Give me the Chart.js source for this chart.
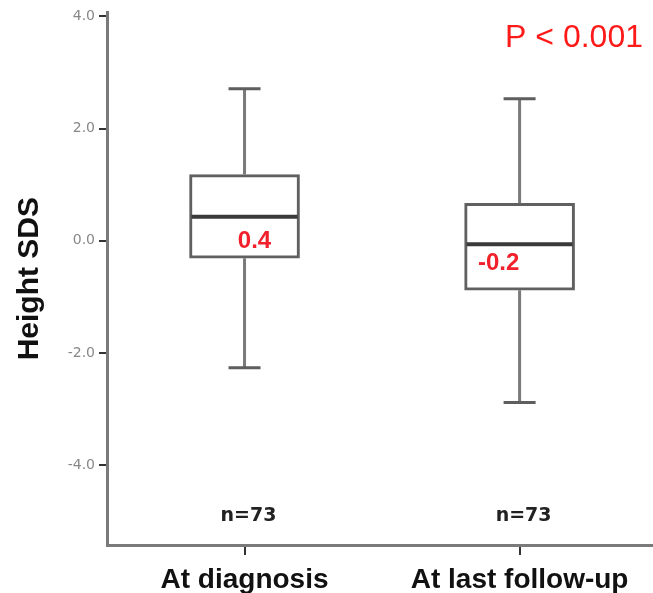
<!DOCTYPE html>
<html>
<head>
<meta charset="utf-8">
<script src="https://cdn.jsdelivr.net/npm/chart.js@4.4.0/dist/chart.umd.min.js"></script>
<style>
    html, body { margin: 0; padding: 0; background: #fff; }
    #wrap { width: 653px; height: 593px; }
</style>
</head>
<body>
<div id="wrap"><canvas id="boxChart" width="653" height="593"></canvas></div>
<script>
// Kategorien und Box-Werte (Height SDS)
const categories = ['At diagnosis', 'At last follow-up'];
const whiskerMax = [2.71, 2.53];
const boxQ3 = [1.18, 0.67];
const medians = [0.43, -0.06];
const boxQ1 = [-0.31, -0.88];
const whiskerMin = [-2.26, -2.88];
const meanLabels = ['0.4', '-0.2'];
const countLabels = ['n=73', 'n=73'];
const pValueText = 'P < 0.001';
const yTickValues = [-4, -2, 0, 2, 4];

// Whisker, Median und Beschriftungen ueber die Skalen zeichnen
const boxExtras = {
    id: 'boxExtras',
    afterDatasetsDraw(chart) {
        const { ctx, scales: { x, y }, chartArea } = chart;
        const half = 55;
        const cap = 16;
        const labelShift = [[10, 25], [-21, 19]];
        ctx.save();
        categories.forEach((cat, i) => {
            const cx = x.getPixelForValue(i + 1);
            // Whisker
            ctx.strokeStyle = '#7a7a7a';
            ctx.lineWidth = 3;
            ctx.beginPath();
            ctx.moveTo(cx, y.getPixelForValue(boxQ3[i]));
            ctx.lineTo(cx, y.getPixelForValue(whiskerMax[i]));
            ctx.moveTo(cx, y.getPixelForValue(boxQ1[i]));
            ctx.lineTo(cx, y.getPixelForValue(whiskerMin[i]));
            ctx.stroke();
            // Caps
            ctx.strokeStyle = '#5e5e5e';
            ctx.beginPath();
            ctx.moveTo(cx - cap, y.getPixelForValue(whiskerMax[i]));
            ctx.lineTo(cx + cap, y.getPixelForValue(whiskerMax[i]));
            ctx.moveTo(cx - cap, y.getPixelForValue(whiskerMin[i]));
            ctx.lineTo(cx + cap, y.getPixelForValue(whiskerMin[i]));
            ctx.stroke();
            // Median
            ctx.strokeStyle = '#3a3a3a';
            ctx.lineWidth = 4;
            ctx.beginPath();
            ctx.moveTo(cx - half + 2, y.getPixelForValue(medians[i]));
            ctx.lineTo(cx + half - 2, y.getPixelForValue(medians[i]));
            ctx.stroke();
            // rote Werte
            ctx.fillStyle = '#f2202a';
            ctx.font = 'bold 24px "Liberation Sans"';
            ctx.textAlign = 'center';
            ctx.textBaseline = 'middle';
            ctx.fillText(meanLabels[i], cx + labelShift[i][0], y.getPixelForValue(medians[i]) + labelShift[i][1]);
            // n-Angabe
            ctx.fillStyle = '#222';
            ctx.font = 'bold 19px "DejaVu Sans"';
            ctx.fillText(countLabels[i], cx + 4, chartArea.bottom - 29);
        });
        // P-Wert oben rechts
        ctx.fillStyle = '#ff1a1a';
        ctx.font = '32px "Liberation Sans"';
        ctx.textAlign = 'right';
        ctx.textBaseline = 'middle';
        ctx.fillText(pValueText, chartArea.right - 10, chartArea.top + 26);
        ctx.restore();
    }
};

new Chart(document.getElementById('boxChart'), {
    type: 'bar',
    data: {
        datasets: [{
            label: 'Height SDS',
            data: categories.map((c, i) => ({ x: i + 1, y: [boxQ1[i], boxQ3[i]] })),
            backgroundColor: '#ffffff',
            borderColor: '#606060',
            borderWidth: 3,
            borderSkipped: false,
            barThickness: 110
        }]
    },
    options: {
        responsive: false,
        animation: false,
        layout: { padding: { top: 10, right: 0, left: 0, bottom: 0 } },
        plugins: {
            legend: { display: false },
            tooltip: { enabled: false }
        },
        scales: {
            x: {
                type: 'linear',
                min: 0.5,
                max: 2.485,
                offset: false,
                afterBuildTicks: s => { s.ticks = [{ value: 1 }, { value: 2 }]; },
                afterFit: s => { s.height = 48; },
                grid: { offset: false, drawOnChartArea: false, drawTicks: true, tickLength: 10, color: '#333', lineWidth: 2 },
                border: { display: true, color: '#7a7a7a', width: 3 },
                ticks: {
                    callback: v => categories[v - 1],
                    font: { family: 'Liberation Sans', size: 28, weight: 'bold' },
                    color: '#111',
                    padding: 8,
                    maxRotation: 0,
                    autoSkip: false
                }
            },
            y: {
                min: -5.42,
                max: 4.07,
                afterBuildTicks: s => { s.ticks = yTickValues.map(v => ({ value: v })); },
                afterFit: s => { s.width = 107; },
                grid: { drawOnChartArea: false, drawTicks: true, tickLength: 8, color: '#333', lineWidth: 2 },
                border: { display: true, color: '#7a7a7a', width: 3 },
                ticks: {
                    callback: v => v.toFixed(1),
                    font: { family: 'DejaVu Sans', size: 14 },
                    color: '#888',
                    padding: 4
                },
                title: {
                    display: true,
                    text: 'Height SDS',
                    font: { family: 'Liberation Sans', size: 30, weight: 'bold' },
                    color: '#111',
                    padding: { top: 12, bottom: 0 }
                }
            }
        }
    },
    plugins: [boxExtras]
});
</script>
</body>
</html>
